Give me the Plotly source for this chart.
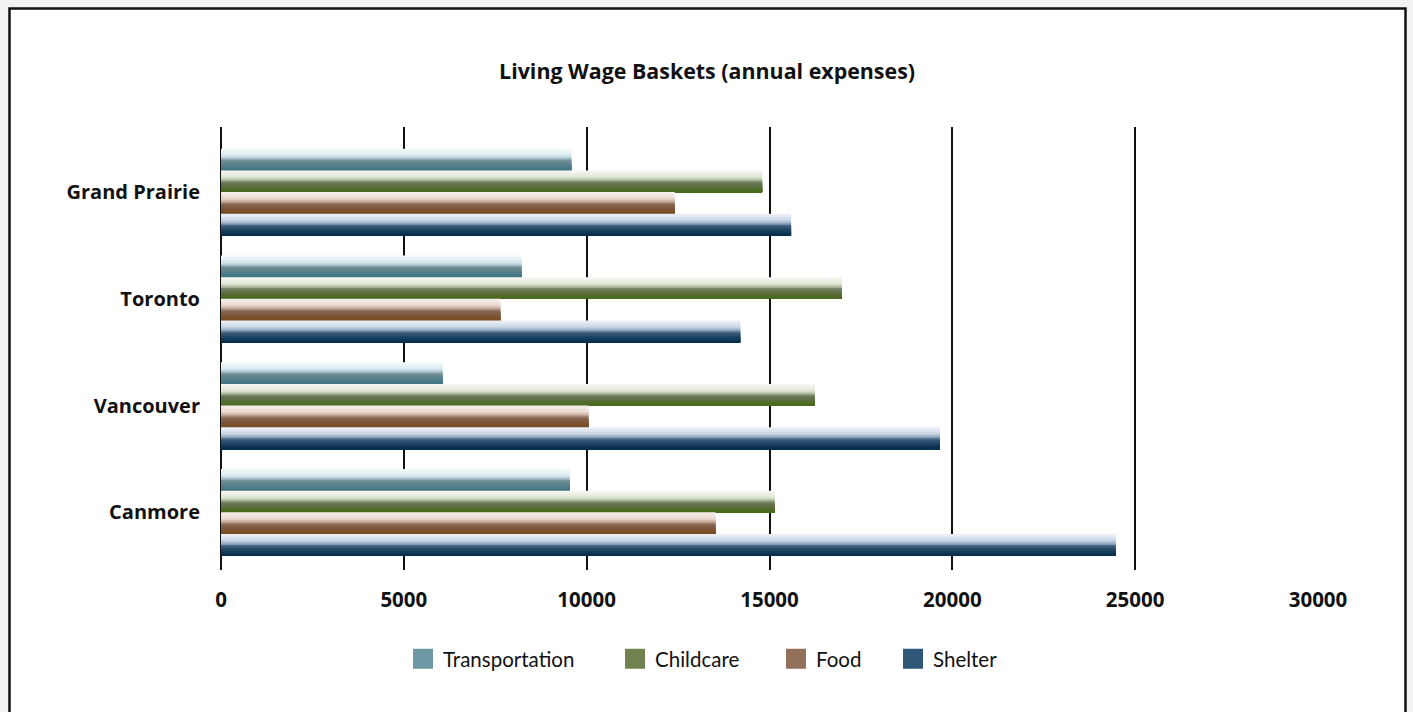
import plotly.graph_objects as go

# Annual living-wage basket costs (CAD) by city and expense category
cities = ["Grand Prairie", "Toronto", "Vancouver", "Canmore"]
categories = ["Transportation", "Childcare", "Food", "Shelter"]

transportation = [9580, 8220, 6060, 9540]
childcare = [14800, 16980, 16240, 15140]
food = [12410, 7640, 10050, 13525]
shelter = [15590, 14200, 19660, 24470]

series_values = [transportation, childcare, food, shelter]
x_ticks = [0, 5000, 10000, 15000, 20000, 25000, 30000]
x_tick_labels = ["0", "5000", "10000", "15000", "20000", "25000", "30000"]

# Vertical shading of each bar: (fraction from the top edge, colour)
shading = {
    "Transportation": [(0.0, "#f4f9fb"), (0.3, "#dcebf1"), (0.45, "#a9c4cd"),
                       (0.55, "#6f8c94"), (0.75, "#56808b"), (1.0, "#3d7585")],
    "Childcare": [(0.0, "#f7f8f3"), (0.3, "#e3e8da"), (0.45, "#aebb9c"),
                  (0.55, "#6f7d60"), (0.75, "#5a6e3c"), (1.0, "#466817")],
    "Food": [(0.0, "#f8f0ec"), (0.3, "#ead8cf"), (0.45, "#c2a595"),
             (0.55, "#8a6a58"), (0.75, "#7d5538"), (1.0, "#784a1e")],
    "Shelter": [(0.0, "#eef2f8"), (0.3, "#c9d6e6"), (0.45, "#8fa7c0"),
                (0.55, "#3f5f7c"), (0.75, "#1d4462"), (1.0, "#022c4a")],
}
swatch = {"Transportation": "#6f98a5", "Childcare": "#6f8250",
          "Food": "#93705a", "Shelter": "#2f5878"}


def hex_to_rgb(h):
    h = h.lstrip("#")
    return tuple(int(h[i:i + 2], 16) for i in (0, 2, 4))


def sample(stops, t):
    for (t0, c0), (t1, c1) in zip(stops, stops[1:]):
        if t <= t1:
            f = 0 if t1 == t0 else (t - t0) / (t1 - t0)
            a, b = hex_to_rgb(c0), hex_to_rgb(c1)
            r = [round(a[i] + (b[i] - a[i]) * f) for i in range(3)]
            return "rgb({},{},{})".format(*r)
    return stops[-1][1]


BOLD_FONT = "Open Sans"
LEGEND_FONT = "Lato"
BAR_H = 0.2035          # height of one bar, in category units
N_LAYERS = 14           # layers used to build the vertical shading

fig = go.Figure()

for j, (name, vals) in enumerate(zip(categories, series_values)):
    top = (2 - j) * BAR_H       # top edge relative to the category centre
    bottom = top - BAR_H
    stops = shading[name]
    for k in range(N_LAYERS):
        h = BAR_H * (N_LAYERS - k) / N_LAYERS
        fig.add_trace(go.Bar(
            y=cities, x=vals, orientation="h",
            base=0, offset=bottom, width=h,
            marker=dict(color=sample(stops, (k + 0.5) / N_LAYERS), line=dict(width=0)),
            name=name, showlegend=False,
            hovertemplate=name + " – %{y}: %{x:,}<extra></extra>",
        ))

# Legend entries, one legend per category so each can be placed on its own
legend_x = [0.1659, 0.3592, 0.5059, 0.6126]
for i, name in enumerate(categories):
    lg = "legend" if i == 0 else "legend%d" % (i + 1)
    fig.add_trace(go.Scatter(
        x=[None], y=[None], mode="markers", name=name, legend=lg,
        marker=dict(symbol="square", size=16, color=swatch[name],
                    line=dict(width=4, color=swatch[name])),
    ))

legend_style = dict(orientation="h", y=-0.2009, yanchor="middle", xanchor="left",
                    font=dict(family=LEGEND_FONT, size=20.5, color="#111111"),
                    bgcolor="rgba(0,0,0,0)", itemsizing="trace")
legends = {}
for i in range(4):
    key = "legend" if i == 0 else "legend%d" % (i + 1)
    legends[key] = dict(legend_style, x=legend_x[i])

ML, MR, MT, MB = 221, 95, 127, 142
PW, PH = 1413 - ML - MR, 712 - MT - MB

fig.update_layout(
    width=1413, height=712,
    margin=dict(l=ML, r=MR, t=MT, b=MB),
    paper_bgcolor="#f2f3f3",
    plot_bgcolor="rgba(0,0,0,0)",
    barmode="overlay",
    title=dict(text="<b>Living Wage Baskets (annual expenses)</b>",
               x=0.5004, xref="container", xanchor="center",
               y=1 - 72 / 712, yref="container", yanchor="middle",
               font=dict(family=BOLD_FONT, size=21.4, color="#111111")),
    xaxis=dict(range=[0, 30000], tickvals=x_ticks, ticktext=x_tick_labels,
               showgrid=True, gridcolor="#111111", gridwidth=1.6,
               zeroline=True, zerolinecolor="#111111", zerolinewidth=1.6,
               showline=False, ticks="",
               tickfont=dict(family=BOLD_FONT, size=20.5, color="#111111", weight="bold"),
               ticklabelstandoff=15),
    yaxis=dict(categoryorder="array", categoryarray=cities[::-1],
               range=[-0.54, 3.61], showgrid=False, zeroline=False,
               showline=False, ticks="",
               tickfont=dict(family=BOLD_FONT, size=20, color="#111111", weight="bold"),
               ticklabelstandoff=20),
    shapes=[dict(type="rect", xref="paper", yref="paper", layer="below",
                 x0=(9.5 - ML) / PW, x1=(1405.5 - ML) / PW,
                 y0=(712 - MB - 730) / PH, y1=(712 - MB - 8.5) / PH,
                 fillcolor="white", line=dict(color="#111111", width=2.5))],
    showlegend=True,
    **legends,
)

fig.write_html("out.html")
